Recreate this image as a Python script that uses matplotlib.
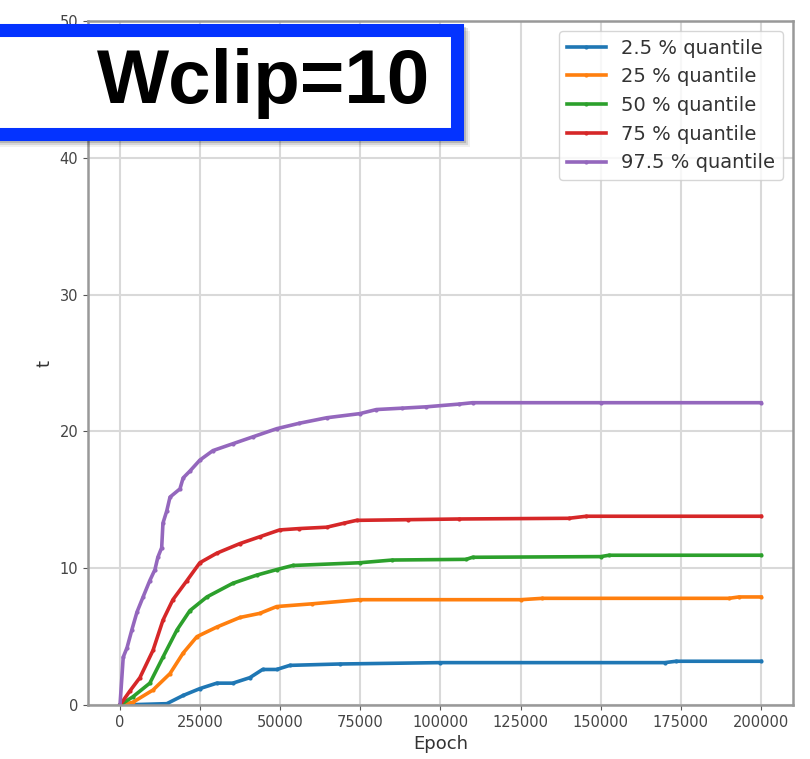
import numpy as np
import matplotlib
matplotlib.use('Agg')
import matplotlib.pyplot as plt
from matplotlib.patches import Rectangle

# quantile curves of t vs. training epoch
labels = ['2.5 % quantile', '25 % quantile', '50 % quantile',
          '75 % quantile', '97.5 % quantile']

ep_q025 = [0, 14600, 19700, 24900, 30200, 35200, 40500, 44500, 48900, 53000,
           68500, 100000, 170000, 173500, 200000]
t_q025 = [0, 0.1, 0.7, 1.2, 1.6, 1.6, 2.0, 2.6, 2.6, 2.9,
          3.0, 3.1, 3.1, 3.2, 3.2]

ep_q25 = [0, 4000, 10300, 15600, 19700, 24000, 30200, 37400, 43600, 48900,
          60000, 74800, 125000, 131800, 190000, 193100, 200000]
t_q25 = [0, 0.2, 1.1, 2.3, 3.8, 5.0, 5.7, 6.4, 6.7, 7.2,
         7.4, 7.7, 7.7, 7.8, 7.8, 7.9, 7.9]

ep_q50 = [0, 4000, 9300, 13400, 17800, 21800, 27100, 35200, 42700, 48900,
          53900, 74800, 85000, 108000, 110000, 150000, 152600, 200000]
t_q50 = [0, 0.6, 1.6, 3.5, 5.5, 6.9, 7.9, 8.9, 9.5, 9.9,
         10.2, 10.4, 10.6, 10.65, 10.8, 10.85, 10.95, 10.95]

ep_q75 = [0, 3000, 6200, 10300, 13400, 16500, 20900, 24900, 30200, 37400,
          43600, 49800, 56000, 64500, 70000, 73800, 90000, 105900, 140000,
          145500, 200000]
t_q75 = [0, 1.0, 2.0, 4.0, 6.2, 7.7, 9.1, 10.4, 11.1, 11.8,
         12.3, 12.8, 12.9, 13.0, 13.3, 13.5, 13.55, 13.6, 13.65,
         13.8, 13.8]

ep_q975 = [0, 1000, 2200, 3700, 5300, 7200, 9300, 10900, 11800, 13000,
           13400, 14600, 15600, 18700, 19700, 21800, 24900, 29000, 35200,
           41400, 48900, 56000, 64500, 74800, 80000, 88000, 95600, 105900,
           110000, 150000, 200000]
t_q975 = [0, 3.5, 4.2, 5.5, 6.8, 7.9, 9.1, 9.9, 10.8, 11.5,
          13.3, 14.2, 15.2, 15.8, 16.6, 17.1, 17.9, 18.6, 19.1,
          19.6, 20.2, 20.6, 21.0, 21.3, 21.6, 21.7, 21.8, 22.0,
          22.1, 22.1, 22.1]

series = [(ep_q025, t_q025), (ep_q25, t_q25), (ep_q50, t_q50),
          (ep_q75, t_q75), (ep_q975, t_q975)]

fig = plt.figure(figsize=(8.1, 7.59), dpi=100)
ax = fig.add_axes([0.1086, 0.0711, 0.8704, 0.9012])

for (x, y), lab in zip(series, labels):
  ax.plot(x, y, marker='.', markersize=4, lw=2.6, label=lab)

ax.set_ylim(0, 50)
ax.set_xticks(np.arange(0, 200001, 25000))
ax.grid(True, color='#d9d9d9', lw=1.5)
ax.tick_params(labelsize=10.5, colors='#555555', labelcolor='#444444')
for s in ax.spines.values():
  s.set_color('#999999')
  s.set_linewidth(1.8)
ax.set_xlabel('Epoch', fontsize=13, color='#333333')
ax.set_ylabel('t', fontsize=13, color='#333333')
ax.legend(loc='upper right', fontsize=14, labelcolor='#333333')

# annotation box pasted over the top-left of the plot, with a soft shadow
bx, by, bw, bh = -20, 133.5, 476.5, 103  # pixels, top-left origin
for off, a in [(6, 0.06), (4, 0.10), (2, 0.15)]:
  fig.add_artist(Rectangle(((bx + off) / 810, 1 - (by + off) / 759),
                           bw / 810, bh / 759,
                           transform=fig.transFigure, facecolor='none',
                           edgecolor='black', lw=9.4, alpha=a, zorder=5))
fig.add_artist(Rectangle((bx / 810, 1 - by / 759), bw / 810, bh / 759,
                         transform=fig.transFigure, facecolor='white',
                         edgecolor='#0433ff', lw=9.4, zorder=6))
fig.text(264 / 810, 1 - 103 / 759, 'Wclip=10', ha='center', va='baseline',
         fontsize=55, fontweight='bold', family='Liberation Sans', zorder=7)

fig.savefig('out.png', dpi=100)
